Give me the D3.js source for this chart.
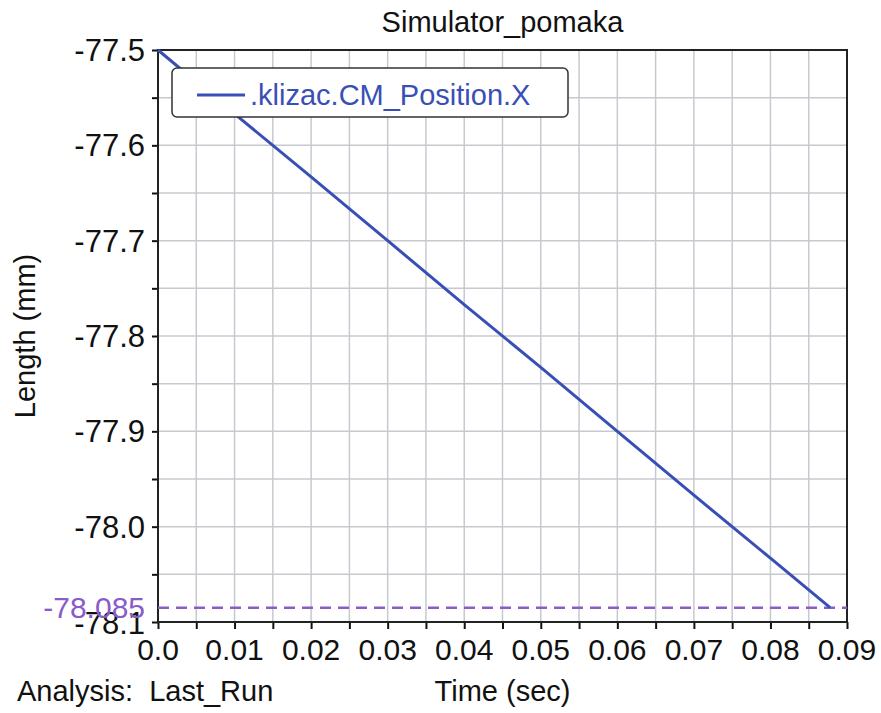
<!DOCTYPE html>
<html>
<head>
<meta charset="utf-8">
<script src="https://cdn.jsdelivr.net/npm/d3@7"></script>
<style>
  body { margin: 0; background: #fff; }
  text { font-family: "Liberation Sans", Arial, sans-serif; }
</style>
</head>
<body>
<div id="chart"></div>
<script>
// data
const timeSec = [0, 0.01, 0.02, 0.03, 0.04, 0.05, 0.06, 0.07, 0.08, 0.0878];
const positionX = [-77.5, -77.567, -77.633, -77.70, -77.767, -77.833, -77.90, -77.967, -78.033, -78.085];
const xTicks = [0.0, 0.01, 0.02, 0.03, 0.04, 0.05, 0.06, 0.07, 0.08, 0.09];
const yTicks = [-77.5, -77.6, -77.7, -77.8, -77.9, -78.0, -78.1];
const markerValue = -78.085;
const seriesName = ".klizac.CM_Position.X";

const W = 881, H = 713;
const margin = {top: 50, right: 34, bottom: 91, left: 158};
const width = W - margin.left - margin.right;
const height = H - margin.top - margin.bottom;

// plain hyphen instead of d3's unicode minus
const fmt = p => d => d3.format(p)(d).replace("\u2212", "-");

const svg = d3.select("#chart").append("svg")
    .attr("width", W)
    .attr("height", H);

const g = svg.append("g")
    .attr("transform", "translate(" + margin.left + "," + margin.top + ")");

const x = d3.scaleLinear().domain([0, 0.09]).range([0, width]);
const y = d3.scaleLinear().domain([-77.5, -78.1]).range([0, height]);

// grid every half step
const xGrid = d3.range(0, 19).map(i => i * 0.005);
const yGrid = d3.range(0, 13).map(i => -77.5 - i * 0.05);

g.append("g").selectAll("line").data(xGrid).join("line")
    .attr("x1", d => x(d)).attr("x2", d => x(d))
    .attr("y1", 0).attr("y2", height)
    .attr("stroke", "#c6cad0").attr("stroke-width", 1.5);

g.append("g").selectAll("line").data(yGrid).join("line")
    .attr("x1", 0).attr("x2", width)
    .attr("y1", d => y(d)).attr("y2", d => y(d))
    .attr("stroke", "#c6cad0").attr("stroke-width", 1.5);

// axes
const xAxis = g.append("g")
    .attr("transform", "translate(0," + height + ")")
    .call(d3.axisBottom(x).tickValues(xGrid).tickSize(7).tickFormat(""));
xAxis.select(".domain").remove();
xAxis.selectAll("line").attr("stroke", "#111").attr("stroke-width", 2);

const yAxis = g.append("g")
    .call(d3.axisLeft(y).tickValues(yGrid).tickSize(6).tickFormat(""));
yAxis.select(".domain").remove();
yAxis.selectAll("line").attr("stroke", "#111").attr("stroke-width", 2);

// frame
g.append("rect")
    .attr("width", width).attr("height", height)
    .attr("fill", "none").attr("stroke", "#222").attr("stroke-width", 2);

// tick labels
g.append("g").selectAll("text").data(xTicks).join("text")
    .attr("x", d => x(d))
    .attr("y", height + 38)
    .attr("text-anchor", "middle")
    .attr("font-size", 30)
    .attr("fill", "#111")
    .text(d => d === 0 ? "0.0" : fmt(".2f")(d));

g.append("g").selectAll("text").data(yTicks).join("text")
    .attr("x", -13)
    .attr("y", (d, i) => y(d) + (i === yTicks.length - 1 ? 12 : 11))
    .attr("text-anchor", "end")
    .attr("font-size", 31)
    .attr("fill", "#111")
    .text(fmt(".1f"));

// marker line
g.append("line")
    .attr("x1", 0).attr("x2", width)
    .attr("y1", y(markerValue)).attr("y2", y(markerValue))
    .attr("stroke", "#8a5cc8").attr("stroke-width", 2.5)
    .attr("stroke-dasharray", "11,7");

g.append("text")
    .attr("x", -13)
    .attr("y", y(markerValue) + 10)
    .attr("text-anchor", "end")
    .attr("font-size", 30)
    .attr("fill", "#8a5cc8")
    .text(fmt(".3f")(markerValue));

// series
const line = d3.line().x((d, i) => x(timeSec[i])).y(d => y(d));
g.append("path")
    .datum(positionX)
    .attr("d", line)
    .attr("fill", "none")
    .attr("stroke", "#3a4fb5")
    .attr("stroke-width", 3);

// legend
const lg = g.append("g").attr("transform", "translate(14,18)");
lg.append("rect")
    .attr("width", 396).attr("height", 49)
    .attr("rx", 5)
    .attr("fill", "#fff").attr("stroke", "#333").attr("stroke-width", 1.5);
lg.append("line")
    .attr("x1", 25).attr("x2", 73)
    .attr("y1", 27).attr("y2", 27)
    .attr("stroke", "#3a4fb5").attr("stroke-width", 3);
lg.append("text")
    .attr("x", 78).attr("y", 37)
    .attr("font-size", 29)
    .attr("fill", "#3a4fb5")
    .text(seriesName);

// titles
svg.append("text")
    .attr("x", margin.left + width / 2).attr("y", 32)
    .attr("text-anchor", "middle")
    .attr("font-size", 29).attr("fill", "#111")
    .text("Simulator_pomaka");

svg.append("text")
    .attr("transform", "translate(35," + (margin.top + height / 2) + ") rotate(-90)")
    .attr("text-anchor", "middle")
    .attr("font-size", 29).attr("fill", "#111")
    .text("Length (mm)");

svg.append("text")
    .attr("x", margin.left + width / 2).attr("y", 701)
    .attr("text-anchor", "middle")
    .attr("font-size", 29).attr("fill", "#111")
    .text("Time (sec)");

svg.append("text")
    .attr("x", 17).attr("y", 701)
    .attr("font-size", 29).attr("fill", "#111")
    .attr("xml:space", "preserve")
    .style("white-space", "pre")
    .text("Analysis:  Last_Run");
</script>
</body>
</html>
